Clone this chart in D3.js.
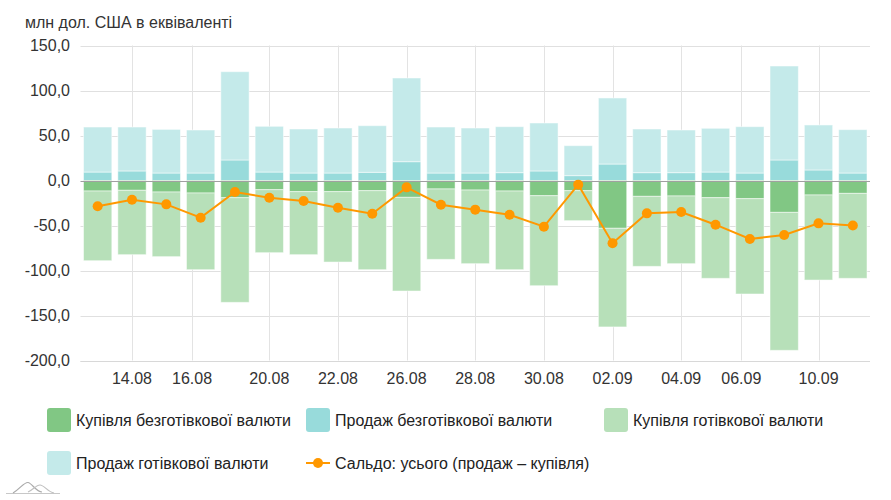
<!DOCTYPE html>
<html>
<head>
<meta charset="utf-8">
<script src="https://cdn.jsdelivr.net/npm/d3@7"></script>
<style>
  html, body { margin: 0; padding: 0; background: #fff; }
  svg { display: block; font-family: "Liberation Sans", Arial, sans-serif; }
</style>
</head>
<body>
<svg id="chart" width="891" height="500"></svg>
<script>
// ---- data ----
const categories = ["13.08","14.08","15.08","16.08","19.08","20.08","21.08","22.08","23.08","26.08","27.08","28.08","29.08","30.08","31.08","02.09","03.09","04.09","05.09","06.09","09.09","10.09","11.09"];
const noncashSale = [9.4,10.6,8.3,8.3,22.8,9.4,8.3,8.3,9.1,20.9,8.3,8.3,8.7,10.6,5.4,18.3,8.7,8.7,9.4,8.3,22.8,11.7,8.3];
const cashSale = [50.0,48.8,48.5,47.8,98.1,50.8,48.9,50.0,51.8,93.0,51.1,50.0,51.1,53.3,33.3,73.4,48.5,47.4,48.6,51.5,104.4,50.0,48.2];
const noncashPurchase = [-11.7,-10.9,-12.8,-13.9,-19.1,-10.2,-12.4,-12.4,-11.3,-18.7,-9.4,-10.6,-11.7,-16.9,-11.3,-53.1,-17.6,-17.2,-19.1,-20.2,-35.4,-16.1,-14.3];
const cashPurchase = [-77.4,-71.5,-71.8,-85.2,-116.3,-70.0,-70.0,-78.2,-87.8,-104.1,-78.2,-81.8,-87.4,-100.0,-33.3,-109.6,-77.8,-75.2,-89.6,-105.9,-153.3,-94.5,-94.4];
const saldo = [-28.7,-21.3,-26.5,-41.3,-12.8,-19.1,-22.8,-30.2,-36.9,-7.6,-26.9,-32.4,-38.0,-51.3,-4.6,-69.8,-36.5,-35.0,-49.1,-65.0,-60.6,-47.6,-50.0];
const tickLabels = ["14.08","16.08","20.08","22.08","26.08","28.08","30.08","02.09","04.09","06.09","10.09"];
const tickIndex = [1, 2.75, 5, 7, 9, 11, 13, 15, 17, 18.75, 21];
const yTicks = [150,100,50,0,-50,-100,-150,-200];
const seriesNames = ["Купівля безготівкової валюти","Продаж безготівкової валюти","Купівля готівкової валюти","Продаж готівкової валюти","Сальдо: усього (продаж – купівля)"];
const colors = { noncashPurchase: "#81c784", noncashSale: "#98dbdb", cashPurchase: "#b7e0b9", cashSale: "#c4eaea", saldo: "#ff9800" };
const unitTitle = "млн дол. США в еквіваленті";

// ---- layout ----
const svg = d3.select("#chart");
const plotLeft = 80.5, plotRight = 870, plotTop = 45.5, plotBottom = 360.5;

const x = d3.scaleBand().domain(categories).range([plotLeft, plotRight]).paddingInner(0.175).paddingOuter(0.0875);
const xIdx = d3.scaleLinear().domain([0, 1]).range([x(categories[0]) + x.bandwidth()/2, x(categories[1]) + x.bandwidth()/2]);
const y = d3.scaleLinear().domain([-200, 150]).range([plotBottom, plotTop]);
const fmt = v => d3.format(".1f")(v).replace(".", ",").replace("−", "-");

// title
svg.append("text").attr("x", 25).attr("y", 27.5).attr("font-size", 16).attr("fill", "#333").text(unitTitle);

// grid
const grid = svg.append("g");
grid.selectAll("line.h").data(yTicks.filter(d => d !== 0)).join("line")
  .attr("x1", plotLeft).attr("x2", plotRight)
  .attr("y1", d => Math.round(y(d)) + 0.5).attr("y2", d => Math.round(y(d)) + 0.5)
  .attr("stroke", "#e0e0e0").attr("stroke-width", 1);
grid.selectAll("line.v").data(tickIndex).join("line")
  .attr("x1", d => Math.round(xIdx(d)) + 0.5).attr("x2", d => Math.round(xIdx(d)) + 0.5)
  .attr("y1", plotTop).attr("y2", plotBottom)
  .attr("stroke", "#e3e3e3").attr("stroke-width", 1);

// y labels
svg.append("g").selectAll("text").data(yTicks).join("text")
  .attr("x", 70).attr("y", d => y(d)).attr("dy", "0.36em")
  .attr("text-anchor", "end").attr("font-size", 16).attr("fill", "#333")
  .text(d => fmt(d));

// x labels
svg.append("g").selectAll("text").data(tickLabels).join("text")
  .attr("x", (d, i) => xIdx(tickIndex[i])).attr("y", 383.5)
  .attr("text-anchor", "middle").attr("font-size", 16).attr("fill", "#333")
  .text(d => d);

// stacked bars
const rows = categories.map((c, i) => ({ c, i }));
function stackLayer(vals, base, color) {
  svg.append("g").selectAll("rect").data(rows).join("rect")
    .attr("x", d => x(d.c))
    .attr("width", x.bandwidth())
    .attr("y", d => y(Math.max(base(d.i), base(d.i) + vals[d.i])))
    .attr("height", d => Math.abs(y(base(d.i)) - y(base(d.i) + vals[d.i])))
    .attr("fill", color)
    .attr("stroke", "#ffffff").attr("stroke-opacity", 0.5).attr("stroke-width", 1);
}
stackLayer(noncashSale, i => 0, colors.noncashSale);
stackLayer(cashSale, i => noncashSale[i], colors.cashSale);
stackLayer(noncashPurchase, i => 0, colors.noncashPurchase);
stackLayer(cashPurchase, i => noncashPurchase[i], colors.cashPurchase);

// zero line
svg.append("line").attr("x1", plotLeft).attr("x2", plotRight)
  .attr("y1", Math.round(y(0)) + 0.5).attr("y2", Math.round(y(0)) + 0.5)
  .attr("stroke", "#a0a0a0").attr("stroke-width", 1);
// bottom axis line
svg.append("line").attr("x1", plotLeft).attr("x2", plotRight)
  .attr("y1", Math.round(y(-200)) + 0.5).attr("y2", Math.round(y(-200)) + 0.5)
  .attr("stroke", "#d8d8d8").attr("stroke-width", 1);

// saldo line
const line = d3.line().x(d => x(d.c) + x.bandwidth()/2).y(d => y(saldo[d.i]));
svg.append("path").datum(rows).attr("d", line)
  .attr("fill", "none").attr("stroke", colors.saldo).attr("stroke-width", 2);
svg.append("g").selectAll("circle").data(rows).join("circle")
  .attr("cx", d => x(d.c) + x.bandwidth()/2).attr("cy", d => y(saldo[d.i]))
  .attr("r", 5).attr("fill", colors.saldo);

// legend
const legendItems = [
  { name: seriesNames[0], color: colors.noncashPurchase, type: "box", lx: 47, ly: 408 },
  { name: seriesNames[1], color: colors.noncashSale, type: "box", lx: 306, ly: 408 },
  { name: seriesNames[2], color: colors.cashPurchase, type: "box", lx: 604, ly: 408 },
  { name: seriesNames[3], color: colors.cashSale, type: "box", lx: 47, ly: 451 },
  { name: seriesNames[4], color: colors.saldo, type: "line", lx: 306, ly: 451 }
];
const lg = svg.append("g").selectAll("g").data(legendItems).join("g")
  .attr("transform", d => `translate(${d.lx},${d.ly})`);
lg.filter(d => d.type === "box").append("rect")
  .attr("width", 24).attr("height", 24).attr("rx", 3).attr("fill", d => d.color);
lg.filter(d => d.type === "line").append("line")
  .attr("x1", 0).attr("x2", 24).attr("y1", 12).attr("y2", 12)
  .attr("stroke", d => d.color).attr("stroke-width", 2);
lg.filter(d => d.type === "line").append("circle")
  .attr("cx", 12).attr("cy", 12).attr("r", 5).attr("fill", d => d.color);
lg.append("text").attr("x", 29).attr("y", 17.5).attr("font-size", 16).attr("fill", "#222").text(d => d.name);

// small watermark icon
const wm = svg.append("g").attr("fill", "none").attr("stroke-width", 1.2);
wm.append("path").attr("d", "M6,493.5 L60,493.5").attr("stroke", "#c8c8c8");
wm.append("path").attr("d", "M13,493 C20,489 24,482 28,482.5 C32,483 36,492 42,492").attr("stroke", "#aaa");
wm.append("path").attr("d", "M28,492 C33,490 36,485 40,485 C44,485 48,492 54,493").attr("stroke", "#c0c0c0");
</script>
</body>
</html>
